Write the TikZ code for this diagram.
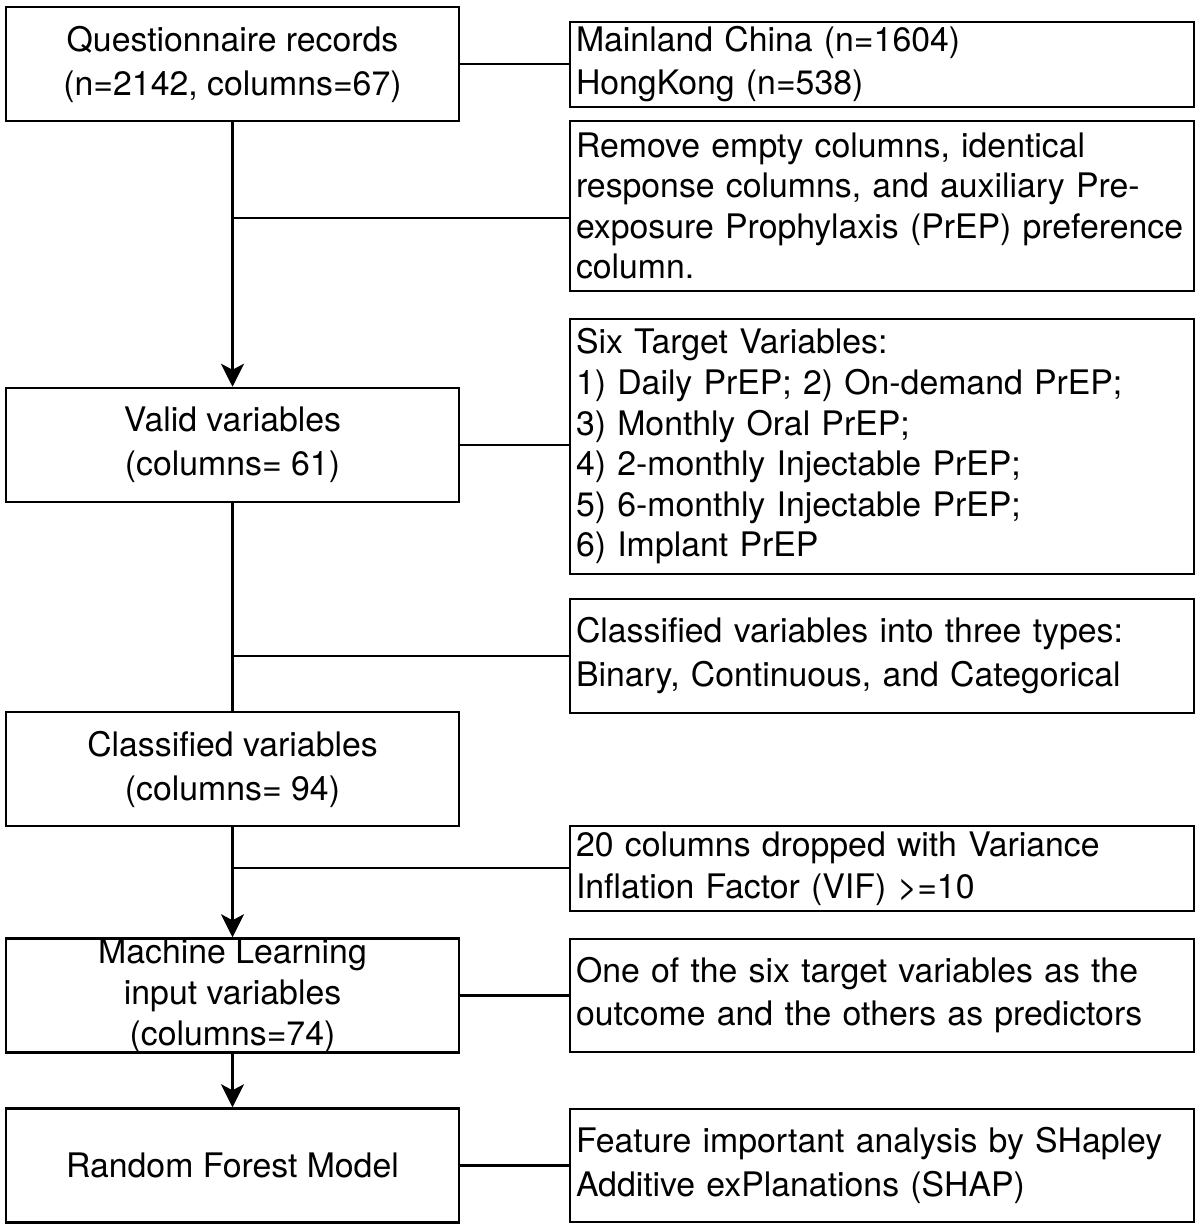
\documentclass[tikz,border=0pt]{standalone}
\usepackage{fontspec}
\setmainfont{TeX Gyre Heros}
\usetikzlibrary{arrows.meta}
\begin{document}
\begin{tikzpicture}[x=1pt,y=-1pt, line width=2.5pt,
  lbox/.style={draw, rectangle, minimum width=453pt, minimum height=114pt, inner sep=0pt, align=center, font=\fontsize{33.8}{44}\selectfont},
  rbox/.style={draw, rectangle, text width=612pt, inner xsep=6pt, inner ysep=0pt, align=left, font=\fontsize{33.8}{40.6}\selectfont},
  arr/.style={-{Stealth[length=23pt,width=23pt,inset=6pt]}}]
\useasboundingbox (0,0) rectangle (1200,1230);
% left column
\node[lbox] (b1) at (232.5,64) {Questionnaire records\\(n=2142, columns=67)};
\node[lbox] (b2) at (232.5,445) {Valid variables\\(columns= 61)};
\node[lbox] (b3) at (232.5,769) {Classified variables\\(columns= 94)};
\node[lbox, font=\fontsize{33.8}{41}\selectfont] (b4) at (232.5,995.5) {Machine Learning\\input variables\\(columns=74)};
\node[lbox] (b5) at (232.5,1165.5) {Random Forest Model};
% right column
\node[rbox, minimum height=85pt, font=\fontsize{33.8}{43}\selectfont] (r1) at (882,64.5) {Mainland China (n=1604)\\HongKong (n=538)};
\node[rbox, minimum height=170pt] (r2) at (882,206) {Remove empty columns, identical\\response columns, and auxiliary Pre-\\exposure Prophylaxis (PrEP) preference\\column.};
\node[rbox, minimum height=255pt] (r3) at (882,446.5) {Six Target Variables:\\1) Daily PrEP; 2) On-demand PrEP;\\3) Monthly Oral PrEP;\\4) 2-monthly Injectable PrEP;\\5) 6-monthly Injectable PrEP;\\6) Implant PrEP};
\node[rbox, minimum height=114pt, font=\fontsize{33.8}{44}\selectfont] (r4) at (882,656) {Classified variables into three types:\\Binary, Continuous, and Categorical};
\node[rbox, minimum height=85pt, font=\fontsize{33.8}{42}\selectfont] (r5) at (882,868.5) {20 columns dropped with Variance\\Inflation Factor (VIF) >=10};
\node[rbox, minimum height=113pt, font=\fontsize{33.8}{43}\selectfont] (r6) at (882,995.5) {One of the six target variables as the\\outcome and the others as predictors};
\node[rbox, minimum height=113pt, font=\fontsize{33.8}{44}\selectfont] (r7) at (882,1165.5) {Feature important analysis by SHapley\\Additive exPlanations (SHAP)};
% junctions on the main line
\coordinate (j2) at (232.5,218);
\coordinate (j4) at (232.5,656);
\coordinate (j5) at (232.5,868);
% main flow
\draw[arr] (b1.south) -- (b2.north);
\draw (b2.south) -- (b3.north);
\draw[arr] (b3.south) -- (b4.north);
\draw[arr] (b4.south) -- (b5.north);
% side connectors
\draw (b1.east) -- (b1.east -| r1.west);
\draw (j2) -- (j2 -| r2.west);
\draw (b2.east) -- (b2.east -| r3.west);
\draw (j4) -- (j4 -| r4.west);
\draw (j5) -- (j5 -| r5.west);
\draw (b4.east) -- (r6.west);
\draw (b5.east) -- (r7.west);
\end{tikzpicture}
\end{document}
